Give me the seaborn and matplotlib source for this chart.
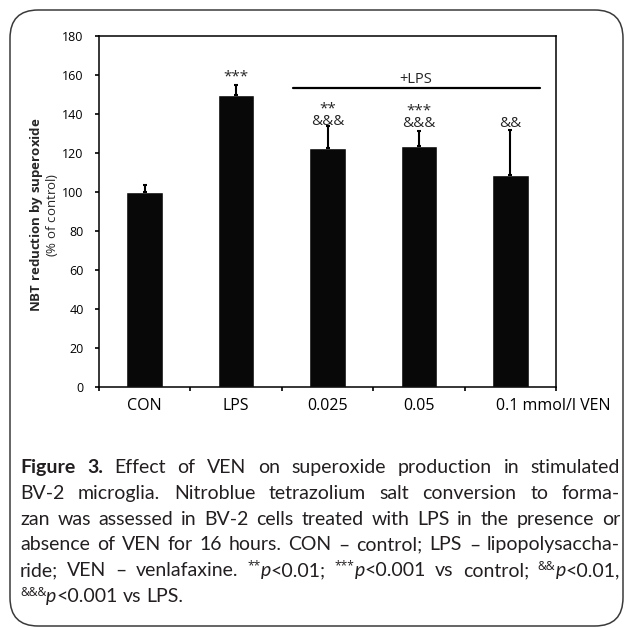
import matplotlib
matplotlib.use("Agg")
import numpy as np
import pandas as pd
import matplotlib.pyplot as plt
import seaborn as sns
from matplotlib.patches import FancyBboxPatch

# dados
categorias = ["CON", "LPS", "0.025", "0.05", "0.1"]
rotulos_x = ["CON", "LPS", "0.025", "0.05", ""]
medias = [100, 150, 122.5, 123.5, 108.5]
erros = [3.5, 5, 11.5, 8, 23.5]

# marcas de significancia (texto, y da linha de base da ultima linha)
sig_txt = ["", "***", "**\n&&&", "***\n&&&", "&&"]
sig_y = [0, 157.4, 134.4, 133.3, 133.3]

legenda = [
    "!Figure !3. Effect of VEN on superoxide production in stimulated",
    "BV-2 microglia. Nitroblue tetrazolium salt conversion to forma-",
    "zan was assessed in BV-2 cells treated with LPS in the presence or",
    "absence of VEN for 16 hours. CON – control; LPS – lipopolysaccha-",
    "ride; VEN – venlafaxine. ^**|~p|<0.01; ^***|~p|<0.001 vs control; ^&&|~p|<0.01,",
    "^&&&|~p|<0.001 vs LPS.",
]

sns.set_theme(style="ticks")
fonte = "Open Sans"
fonte_leg = "Lato"
plt.rcParams["font.family"] = [fonte, "DejaVu Sans"]
plt.rcParams["mathtext.fontset"] = "custom"
plt.rcParams["mathtext.rm"] = fonte
plt.rcParams["mathtext.bf"] = fonte + ":bold"
plt.rcParams["mathtext.it"] = fonte + ":italic"

W, H = 625, 628
fig = plt.figure(figsize=(W / 100, H / 100), dpi=100)
ax = fig.add_axes([99 / W, 1 - 387 / H, 457 / W, 351 / H])

df = pd.DataFrame({"grupo": categorias, "valor": medias})
sns.barplot(data=df, x="grupo", y="valor", color="#080808", saturation=1,
            width=0.4, errorbar=None, ax=ax, zorder=2)
ax.errorbar(np.arange(len(medias)), medias, yerr=[np.zeros(len(erros)), erros],
            fmt="none", ecolor="black", elinewidth=1.5, capsize=1.6, capthick=1.5, zorder=3)

ax.set_xlim(-0.5, 4.5)
ax.set_ylim(0, 180)
ax.set_yticks(range(0, 181, 20))
ax.set_xticks(range(5))
ax.set_xticklabels(rotulos_x)
ax.set_xticks(np.arange(-0.5, 5, 1), minor=True)
ax.tick_params(axis="x", which="major", length=0, pad=8, labelsize=11.5, colors="black")
ax.tick_params(axis="x", which="minor", length=3, width=1.2, direction="out", color="black")
ax.tick_params(axis="y", length=3, width=1.2, direction="out", pad=8, labelsize=9, colors="black")
ax.set_xlabel("")
ax.set_ylabel("")
for s in ax.spines.values():
    s.set_visible(True)
    s.set_linewidth(1.1)
    s.set_color("black")

# ultimo rotulo deslocado (0.1 mmol/l VEN)
ax.annotate("0.1 mmol/l VEN", xy=(4, 0), xycoords=("data", "axes fraction"),
            xytext=(-10, -8), textcoords="offset points", ha="left", va="top",
            fontsize=11.5, color="black")

# rotulo do eixo y em duas linhas (negrito + normal), num unico texto
ax.text(-0.12, 0.49, r"$\mathbf{NBT\ reduction\ by\ superoxide}$" + "\n" + r"$\mathrm{(\%\ of\ control)}$",
        transform=ax.transAxes, rotation=90, ha="center", va="center",
        multialignment="center", linespacing=0.95, fontsize=9.5)

# asteriscos e &
for i in range(5):
    if sig_txt[i]:
        ax.text(i, sig_y[i], sig_txt[i], ha="center", va="baseline",
                multialignment="center", linespacing=0.78, fontsize=11)

ax.plot([1.62, 4.32], [153.3, 153.3], color="black", lw=1.6, clip_on=False)
ax.text(2.97, 155.9, "+LPS", ha="center", va="baseline", fontsize=10.5)

# moldura arredondada
fig.add_artist(FancyBboxPatch((10 / W, 1 - 626 / H), 613 / W, 616 / H,
                              boxstyle="round,pad=0,rounding_size=0.045",
                              transform=fig.transFigure, fill=False,
                              lw=1.1, ec="#3a3a3a"))

# legenda justificada, palavra por palavra
cor_txt = "#231f20"
esq, dir_ = 20, 620
base0, passo = 473, 25.8
renderer = fig.canvas.get_renderer()


def partes(palavra):
    out = []
    for p in palavra.split("|"):
        if p[0] in "^~!":
            out.append((p[1:], p[0]))
        else:
            out.append((p, ""))
    return out


def montar(tam):
    linhas = []
    for k, linha in enumerate(legenda):
        yb = base0 + k * passo
        palavras = []
        for w in linha.split(" "):
            segs = []
            for txt, st in partes(w):
                kw = dict(fontsize=tam, color=cor_txt, va="baseline", ha="left",
                          family=[fonte_leg, "DejaVu Sans"])
                dy = 0
                if st == "!":
                    kw["fontweight"] = "bold"
                elif st == "~":
                    kw["fontstyle"] = "italic"
                elif st == "^":
                    kw["fontsize"] = tam * 0.62
                    kw["family"] = [fonte, "DejaVu Sans"]
                    dy = tam * 100 / 72 * 0.33
                t = fig.text(0, 1 - (yb - dy) / H, txt, **kw)
                segs.append(t)
            palavras.append(segs)
        linhas.append(palavras)
    return linhas


def largura(t):
    return t.get_window_extent(renderer=renderer).width


tam = 14
linhas = montar(tam)
espaco = tam * 100 / 72 * 0.2
maxnat = 0
for palavras in linhas:
    nat = sum(largura(t) for segs in palavras for t in segs) + espaco * (len(palavras) - 1)
    maxnat = max(maxnat, nat)
if maxnat > (dir_ - esq):
    novo = tam * (dir_ - esq) / maxnat
    for palavras in linhas:
        for segs in palavras:
            for t in segs:
                t.remove()
    tam = novo
    espaco = tam * 100 / 72 * 0.2
    linhas = montar(tam)

for k, palavras in enumerate(linhas):
    larg = [[largura(t) for t in segs] for segs in palavras]
    tot = sum(sum(l) for l in larg)
    if k < len(linhas) - 1 and len(palavras) > 1:
        gap = ((dir_ - esq) - tot) / (len(palavras) - 1)
    else:
        gap = tam * 100 / 72 * 0.25
    x = esq
    for segs, ls in zip(palavras, larg):
        for t, l in zip(segs, ls):
            t.set_x(x / W)
            x += l
        x += gap

fig.savefig("out.png", dpi=100)
